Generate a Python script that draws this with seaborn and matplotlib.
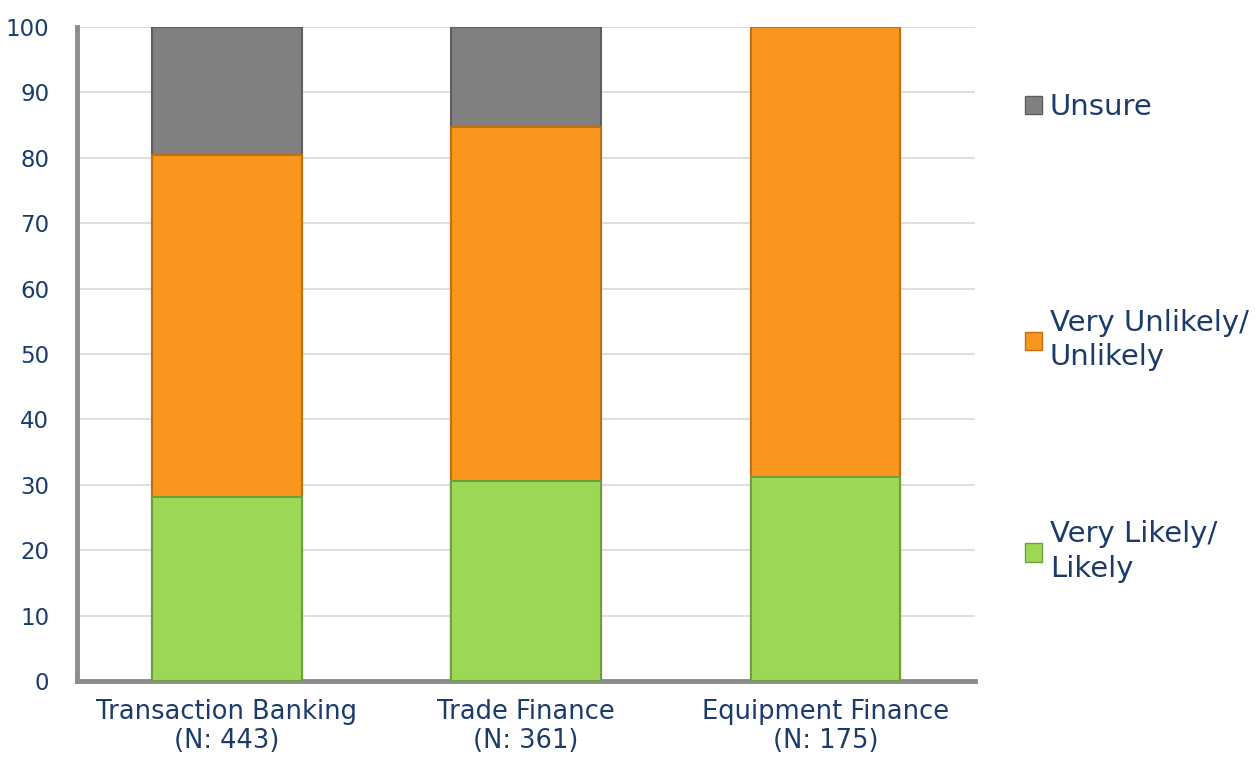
import matplotlib
matplotlib.use("Agg")
import matplotlib.pyplot as plt
import seaborn as sns
import pandas as pd
from matplotlib.patches import Patch

categories = ["Transaction Banking\n(N: 443)", "Trade Finance\n(N: 361)", "Equipment Finance\n(N: 175)"]
likely = [28.1, 30.6, 31.2]
unlikely = [52.3, 54.1, 68.8]
unsure = [19.6, 15.3, 0.0]

TEXT = "#1B3C6B"
colors = {"Unsure": "#808080", "Very Unlikely/\nUnlikely": "#F8961E", "Very Likely/\nLikely": "#9CD856"}
edges = {"Unsure": "#5E5E5E", "Very Unlikely/\nUnlikely": "#C46E12", "Very Likely/\nLikely": "#6E9F3C"}

df = pd.DataFrame({"cat": categories, "likely": likely, "unlikely": unlikely, "unsure": unsure})
df["c1"] = df["likely"]
df["c2"] = df["likely"] + df["unlikely"]
df["c3"] = df["c2"] + df["unsure"]

sns.set_style("white")
plt.rcParams["font.family"] = ["DejaVu Sans"]

fig = plt.figure(figsize=(12.55, 7.61), dpi=100)
ax = fig.add_axes([0.0614, 0.105, 0.7155, 0.8595])

# stacked via cumulative overlapping bars
for col, name in [("c3", "Unsure"), ("c2", "Very Unlikely/\nUnlikely"), ("c1", "Very Likely/\nLikely")]:
    sns.barplot(data=df, x="cat", y=col, color=colors[name], edgecolor=edges[name],
                linewidth=1.5, width=0.5, saturation=1, ax=ax, zorder=3)

ax.set_ylim(0, 100)
ax.set_xlim(-0.5, 2.5)
ax.set_yticks(range(0, 101, 10))
ax.yaxis.grid(True, color="#D9D9D9", linewidth=1.2, zorder=0)
ax.set_axisbelow(True)
ax.set_xlabel("")
ax.set_ylabel("")
for s in ["top", "right"]:
    ax.spines[s].set_visible(False)
for s in ["left", "bottom"]:
    ax.spines[s].set_color("#8C8C8C")
    ax.spines[s].set_linewidth(3.5)
ax.tick_params(axis="both", length=0, colors=TEXT)
ax.tick_params(axis="y", pad=20, labelsize=16.5)
ax.tick_params(axis="x", pad=13, labelsize=18.5)
for lbl in ax.get_xticklabels():
    lbl.set_linespacing(1.15)

entries = [("Unsure", 0.859), ("Very Unlikely/\nUnlikely", 0.553), ("Very Likely/\nLikely", 0.275)]
for name, yy in entries:
    h = Patch(facecolor=colors[name], edgecolor=edges[name], linewidth=1)
    leg = fig.legend([h], [name], loc="center left", bbox_to_anchor=(0.812, yy),
                     frameon=False, fontsize=21, handlelength=0.6, handleheight=0.6,
                     handletextpad=0.25, labelcolor=TEXT, borderaxespad=0, borderpad=0.2)
    for t in leg.get_texts():
        t.set_linespacing(1.3)

fig.savefig("out.png", dpi=100)
